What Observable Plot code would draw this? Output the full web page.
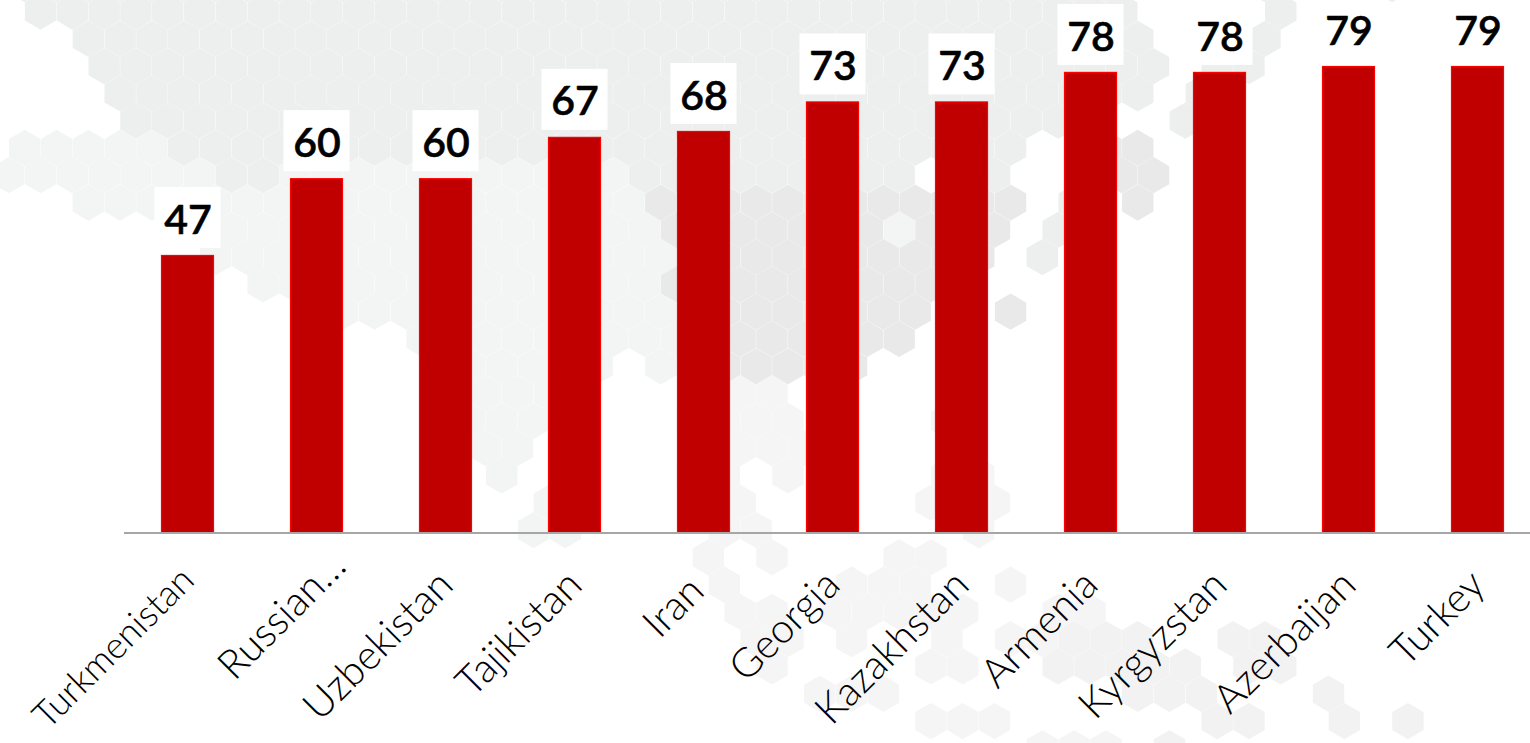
<!DOCTYPE html>
<html>
<head>
<meta charset="utf-8">
<script src="https://cdn.jsdelivr.net/npm/d3@7"></script>
<script src="https://cdn.jsdelivr.net/npm/@observablehq/plot@0.6"></script>
<style>
html,body{margin:0;padding:0;background:#fff;overflow:hidden}
svg{display:block}
</style>
</head>
<body>
<div id="chart"></div>
<script>
const countries = ["Turkmenistan","Russian…","Uzbekistan","Tajikistan","Iran","Georgia","Kazakhstan","Armenia","Kyrgyzstan","Azerbaijan","Turkey"];
const scores = [47,60,60,67,68,73,73,78,78,79,79];

// Backdrop map: hexagon cells as [grid row, first column, last column, shade group]
const mapCells = [
  [-1,-1,33,"T"],[-1,38,38,"T"],[-1,42,42,"T"],
  [0,0,34,"T"],[0,39,39,"T"],
  [1,1,34,"T"],[1,37,38,"T"],
  [2,2,35,"T"],[2,37,38,"T"],
  [3,2,34,"T"],[3,36,36,"T"],
  [4,3,33,"T"],[4,36,36,"T"],
  [5,-1,3,"L"],[5,4,30,"T"],[5,33,34,"G"],
  [6,-1,5,"L"],[6,6,7,"T"],[6,8,18,"L"],[6,19,27,"T"],[6,29,30,"T"],[6,34,35,"G"],
  [7,1,18,"L"],[7,19,30,"G"],[7,32,32,"T"],[7,34,34,"G"],
  [8,5,19,"L"],[8,20,26,"G"],[8,27,27,"L"],[8,28,30,"G"],[8,32,32,"T"],
  [9,5,19,"L"],[9,20,29,"G"],[9,31,31,"T"],
  [10,7,19,"L"],[10,20,28,"G"],
  [11,8,20,"L"],[11,21,27,"G"],[11,30,30,"G"],
  [12,12,20,"L"],[12,21,27,"G"],
  [13,12,17,"L"],[13,19,20,"L"],[13,21,25,"G"],
  [14,13,17,"L"],[14,21,23,"S"],
  [15,13,16,"L"],[15,20,23,"S"],[15,28,28,"S"],
  [16,14,15,"L"],[16,21,24,"S"],
  [17,14,14,"L"],[17,20,21,"S"],[17,23,23,"S"],[17,28,29,"S"],
  [18,16,17,"L"],[18,21,22,"S"],[18,28,30,"S"],
  [19,15,16,"L"],[19,21,22,"S"],[19,29,29,"S"],
  [20,21,21,"S"],[20,23,23,"S"],[20,27,28,"S"],
  [21,21,21,"S"],[21,25,27,"S"],[21,30,30,"S"],
  [22,22,23,"S"],[22,25,29,"S"],[22,32,33,"S"],
  [23,22,23,"S"],[23,25,25,"S"],[23,28,28,"S"],[23,30,31,"S"],[23,32,34,"D"],[23,37,38,"D"],
  [24,23,23,"S"],[24,28,29,"S"],[24,32,36,"D"],[24,38,39,"D"],
  [25,24,26,"S"],[25,34,36,"D"],[25,40,40,"D"],
  [26,28,30,"S"],[26,37,38,"D"],[26,41,41,"D"],[26,43,43,"D"],
  [27,31,33,"S"],[27,35,35,"D"]
];
const shadeNames = {T:"#edeeee",L:"#f3f4f4",G:"#e9e9e9",S:"#f5f5f5",D:"#f2f2f2"};

const hexes = mapCells.flatMap(([row,a,b,s]) => d3.range(a,b+1).map(col => ({row,col,s})));
const rows = countries.map((name,i) => ({name, score: scores[i]}));
const labelStyle = {anchor:"bottom", tickSize:0, tickPadding:0, tickRotate:-45, fontSize:40.5, fontWeight:300, fontFamily:"Lato", fill:"#000", label:null};
const apart = ["Turkmenistan","Russian…","Iran"];

const chart = Plot.plot({
  width: 1530,
  height: 743,
  marginTop: 0, marginLeft: 124, marginRight: 0, marginBottom: 210.5,
  style: {background: "transparent"},
  x: {domain: countries, range: [123.3,1542.3], paddingInner: 0.59, paddingOuter: 0.295, label: null, axis: null},
  y: {domain: [0,90], range: [532.5,1.05], axis: null},
  marks: [
    Plot.dot(hexes, {
      x: {value: d => 40 + 31.8*d.col + (Math.abs(d.row)%2 ? 16 : 0), scale: null},
      y: {value: d => 11 + 27.29*d.row, scale: null},
      dx: -26.45,
      symbol: "hexagon", r: 15.7,
      fill: {value: d => shadeNames[d.s], scale: null},
      stroke: "none"
    }),
    Plot.barY(rows, {x:"name", y1:"score", y2:"score", fill:"#fff", insetLeft:-6.5, insetRight:-6.5, insetTop:-68, insetBottom:7}),
    Plot.barY(rows, {x:"name", y:"score", fill:"#c00000", stroke:"#ff0000", strokeWidth:1.2, insetLeft:0.5, insetRight:0.5, insetTop:0.5}),
    Plot.ruleY([0], {stroke:"#a6a6a6", strokeWidth:2}),
    Plot.text(rows, {x:"name", y:"score", text: d => String(d.score), dy:-35, fontSize:41, fontWeight:600, stroke:"#000", strokeWidth:0.5, fontFamily:"Lato", fill:"#000"}),
    Plot.axisX(countries.filter(c => !apart.includes(c)), {...labelStyle, dy:45}),
    Plot.axisX(["Turkmenistan"], {...labelStyle, fontSize:36.5, dy:41}),
    Plot.axisX(["Russian…"], {...labelStyle, dx:22, dy:26}),
    Plot.axisX(["Iran"], {...labelStyle, dx:-7, dy:51})
  ]
});
document.getElementById("chart").appendChild(chart);
</script>
</body>
</html>
